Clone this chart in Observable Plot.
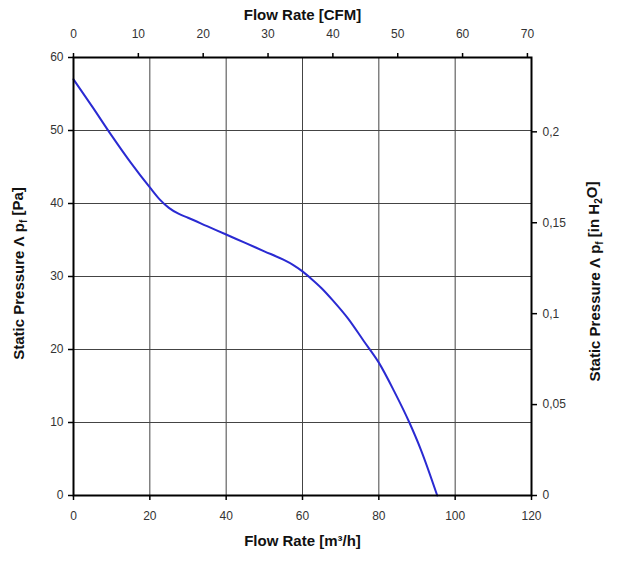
<!DOCTYPE html>
<html>
<head>
<meta charset="utf-8">
<script src="https://cdn.jsdelivr.net/npm/d3@7"></script>
<script src="https://cdn.jsdelivr.net/npm/@observablehq/plot@0.6"></script>
<style>
  html, body { margin: 0; padding: 0; background: #fff; }
  #chart { width: 618px; height: 563px; }
</style>
</head>
<body>
<div id="chart"></div>
<script>
// Fan curve: flow rate (m³/h) vs static pressure (Pa)
const flow =     [0,    5,    10,   15,   20,   22.5, 25,   27.5, 30,    35,   40,    45,   50,    55,   57.5, 60,   62.5, 65,   68,   72,   76,   80,   84,   88,   91,  95.3];
const pressure = [57.0, 53.2, 49.3, 45.6, 42.2, 40.6, 39.4, 38.6, 38.05, 36.9, 35.75, 34.6, 33.45, 32.3, 31.6, 30.7, 29.6, 28.4, 26.7, 24.2, 21.2, 18.2, 14.3, 10.0, 6.3, 0];

const xTicks = [0, 20, 40, 60, 80, 100, 120];          // m³/h
const yTicks = [0, 10, 20, 30, 40, 50, 60];            // Pa
const cfmTicks = [0, 10, 20, 30, 40, 50, 60, 70];      // CFM
const inH2OTicks = [0, 0.05, 0.1, 0.15, 0.2];          // in H2O

const CFM_TO_M3H = 1.69901;
const INH2O_TO_PA = 249.089;

const xTitle = "Flow Rate [m³/h]";
const topTitle = "Flow Rate [CFM]";
const leftTitle = "Static Pressure Λ pf [Pa]";
const rightTitle = "Static Pressure Λ pf [in H2O]";

const rows = flow.map((f, i) => ({flow: f, pressure: pressure[i]}));

const tickFont = "'Liberation Sans Narrow', 'Arial Narrow', 'Liberation Sans', Arial, sans-serif";
const titleFont = "'Liberation Sans', Arial, sans-serif";

const chart = Plot.plot({
  width: 618,
  height: 563,
  marginLeft: 73,
  marginRight: 87,
  marginTop: 57,
  marginBottom: 68,
  style: {fontFamily: tickFont, fontSize: "12px", color: "#333", background: "#fff", overflow: "visible"},
  x: {domain: [0, 120]},
  y: {domain: [0, 60]},
  marks: [
    Plot.gridX(xTicks, {stroke: "#444", strokeOpacity: 1, strokeWidth: 1}),
    Plot.gridY(yTicks, {stroke: "#444", strokeOpacity: 1, strokeWidth: 1}),
    Plot.line(rows, {x: "flow", y: "pressure", stroke: "#2a2ad2", strokeWidth: 2, curve: "monotone-x"}),
    Plot.frame({stroke: "#000", strokeWidth: 2}),
    Plot.axisX(xTicks, {anchor: "bottom", tickSize: 5, tickPadding: 11, stroke: "#000", strokeWidth: 1.5, fill: "#333", label: null}),
    Plot.axisY(yTicks, {anchor: "left", tickSize: 5, tickPadding: 5, stroke: "#000", strokeWidth: 1.5, fill: "#333", label: null}),
    Plot.axisX(cfmTicks.map(c => c * CFM_TO_M3H), {anchor: "top", tickSize: 5, tickPadding: 15, stroke: "#000", strokeWidth: 1.5, fill: "#333", label: null,
      tickFormat: d => String(Math.round(d / CFM_TO_M3H))}),
    Plot.axisY(inH2OTicks.map(v => v * INH2O_TO_PA), {anchor: "right", tickSize: 5, tickPadding: 6, stroke: "#000", strokeWidth: 1.5, fill: "#333", label: null,
      tickFormat: d => String(Math.round(d / INH2O_TO_PA * 100) / 100).replace(".", ",")}),
    Plot.text([xTitle], {text: d => d, frameAnchor: "bottom", textAnchor: "middle", dy: 50, fontSize: 15, fontWeight: "bold", fill: "#111", fontFamily: titleFont}),
    Plot.text([topTitle], {text: d => d, frameAnchor: "top", textAnchor: "middle", dy: -48, fontSize: 15, fontWeight: "bold", fill: "#111", fontFamily: titleFont}),
    Plot.text([leftTitle], {text: d => d, frameAnchor: "left", textAnchor: "middle", rotate: -90, dx: -54, dy: -3, fontSize: 15, fontWeight: "bold", fill: "#111", fontFamily: titleFont}),
    Plot.text([rightTitle], {text: d => d, frameAnchor: "right", textAnchor: "middle", rotate: -90, dx: 64, dy: 5, fontSize: 15, fontWeight: "bold", fill: "#111", fontFamily: titleFont})
  ]
});

// subscripts in the pressure titles
d3.select(chart).selectAll("text").each(function () {
  const t = this.textContent;
  if (t === leftTitle || t === rightTitle) {
    const sel = d3.select(this);
    sel.text(null);
    sel.append("tspan").text("Static Pressure Λ p");
    sel.append("tspan").attr("dy", "0.3em").attr("font-size", "10px").text("f");
    if (t === leftTitle) {
      sel.append("tspan").attr("dy", "-0.3em").text(" [Pa]");
    } else {
      sel.append("tspan").attr("dy", "-0.3em").text(" [in H");
      sel.append("tspan").attr("dy", "0.3em").attr("font-size", "10px").text("2");
      sel.append("tspan").attr("dy", "-0.3em").text("O]");
    }
  }
});

document.getElementById("chart").appendChild(chart);
</script>
</body>
</html>
